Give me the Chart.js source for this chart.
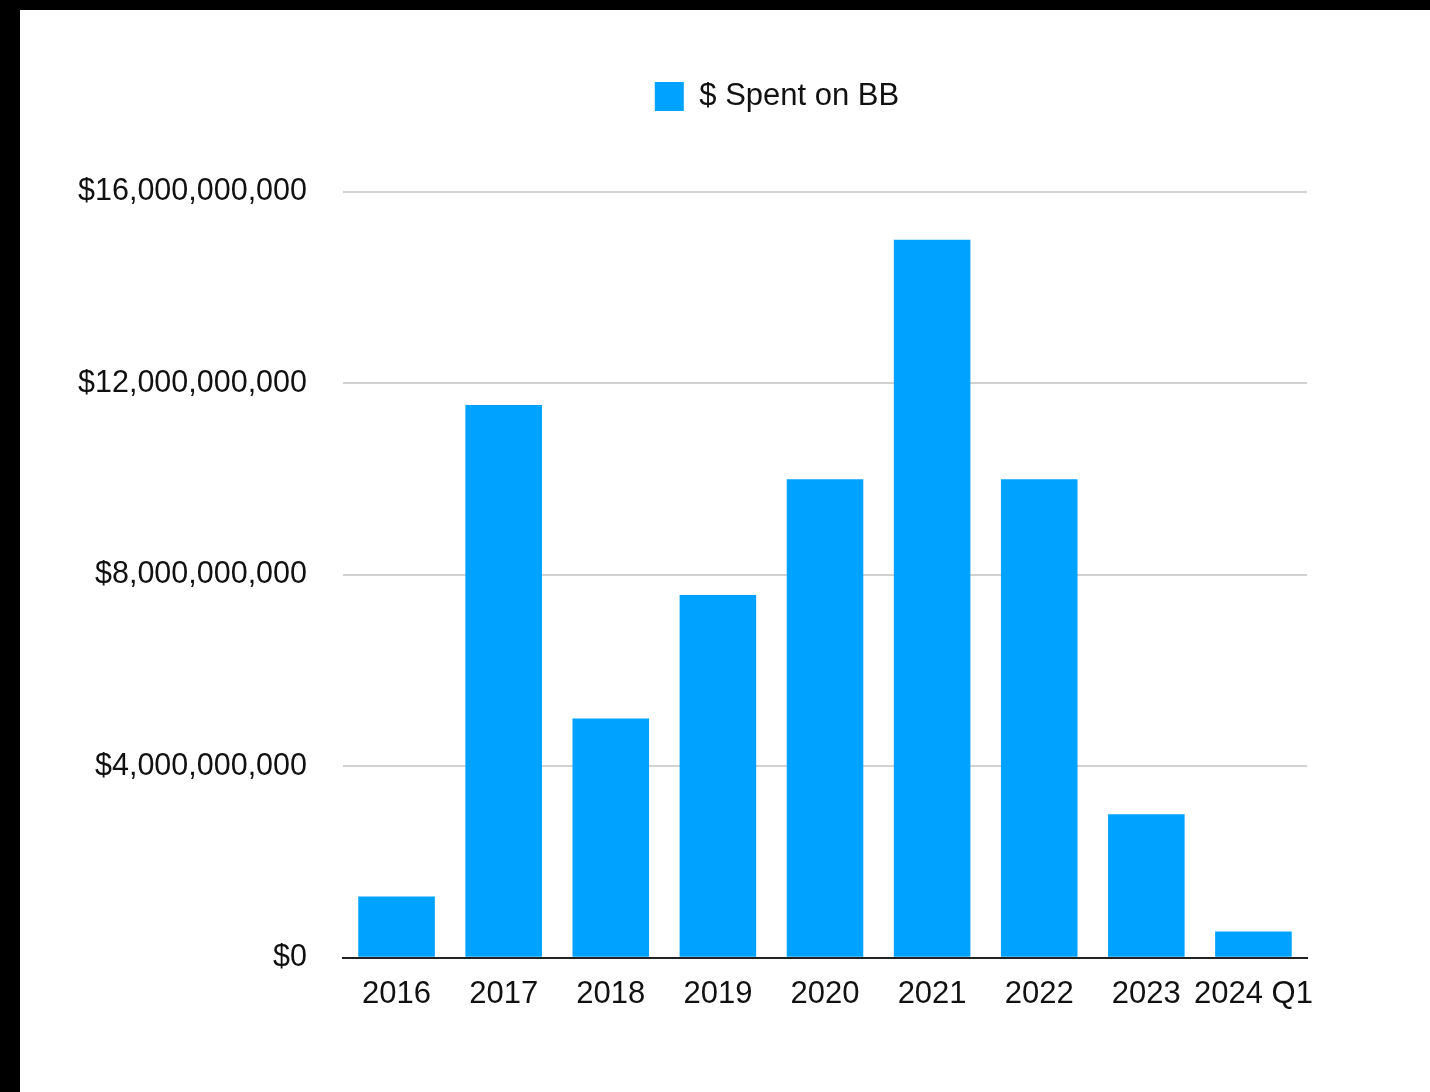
<!DOCTYPE html>
<html>
<head>
<meta charset="utf-8">
<script src="https://cdn.jsdelivr.net/npm/chart.js@4.4.1/dist/chart.umd.min.js"></script>
<style>
  html, body { margin: 0; padding: 0; background: #000; }
  .sheet {
    position: absolute;
    left: 20px;
    top: 10px;
    width: 1410px;
    height: 1082px;
    background: #fff;
  }
</style>
</head>
<body>
<div class="sheet">
  <canvas id="chart"></canvas>
</div>
<script>
const years = ['2016', '2017', '2018', '2019', '2020', '2021', '2022', '2023', '2024 Q1'];
const spentOnBB = [1.28e9, 11.55e9, 5.0e9, 7.58e9, 10.0e9, 15.0e9, 10.0e9, 3.0e9, 0.55e9];
const seriesLabel = '$ Spent on BB';
const yTicks = [0, 4e9, 8e9, 12e9, 16e9];

const FONT = "'Liberation Sans', Arial, Helvetica, sans-serif";

// Numbers puts the legend a bit right of centre and leaves a gap under it
const legendNudge = {
  id: 'legendNudge',
  afterLayout(chart) {
    const lg = chart.legend;
    lg.left += 86;
    lg.right += 86;
    lg.top -= 70;
    lg.bottom -= 70;
  }
};

const money = v => '$' + v.toLocaleString('en-US');

new Chart(document.getElementById('chart'), {
  type: 'bar',
  data: {
    labels: years,
    datasets: [
      {
        label: seriesLabel,
        data: spentOnBB,
        backgroundColor: '#00A2FF',
        borderWidth: 0,
        categoryPercentage: 1,
        barPercentage: 0.715,
      }
    ]
  },
  options: {
    responsive: true,
    maintainAspectRatio: false,
    animation: false,
    layout: {
      padding: { left: 55, right: 123, top: 131, bottom: 69 }
    },
    plugins: {
      tooltip: { enabled: false },
      legend: {
        position: 'top',
        labels: {
          boxWidth: 29,
          boxHeight: 29,
          padding: 10,
          color: '#111',
          font: { family: FONT, size: 31 },
        }
      }
    },
    scales: {
      x: {
        grid: { display: false },
        border: { color: '#222', width: 2 },
        ticks: {
          padding: 10,
          color: '#111',
          maxRotation: 0,
          autoSkip: false,
          font: { family: FONT, size: 31 },
        }
      },
      y: {
        min: 0,
        max: 16e9,
        afterBuildTicks: scale => {
          scale.ticks = yTicks.map(v => ({ value: v }));
        },
        afterFit: scale => {
          scale.width = 268;
        },
        grid: {
          color: '#d2d2d2',
          lineWidth: 2,
          drawTicks: false,
        },
        border: { display: false },
        ticks: {
          padding: 36,
          color: '#111',
          font: { family: FONT, size: 30.5 },
          callback: value => money(value),
        }
      }
    }
  },
  plugins: [legendNudge]
});
</script>
</body>
</html>
